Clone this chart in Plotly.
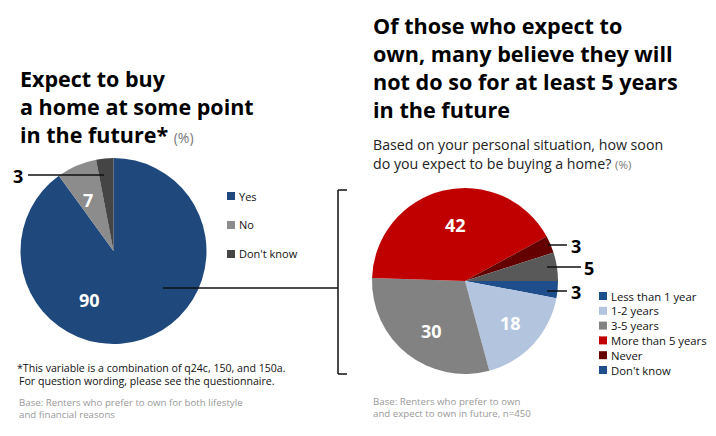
import plotly.graph_objects as go

W, H = 716, 436

# Left pie: expect to buy a home
buy_labels = ["Yes", "No", "Don't know"]
buy_values = [90, 7, 3]
buy_colors = ["#1f497d", "#8c8c8c", "#454545"]

# Right pie: how soon
soon_labels = ["Less than 1 year", "1-2 years", "3-5 years", "More than 5 years", "Never", "Don't know"]
soon_values = [3, 18, 30, 42, 3, 5]
soon_colors = ["#1f4e8c", "#b3c4df", "#828282", "#c00000", "#640000", "#595959"]
soon_legend_colors = ["#1f4e8c", "#b3c4df", "#828282", "#c00000", "#640000", "#1f4e8c"]

left_title = ["Expect to buy", "a home at some point", "in the future*"]
right_title = ["Of those who expect to", "own, many believe they will",
               "not do so for at least 5 years", "in the future"]
right_sub = ["Based on your personal situation, how soon",
             "do you expect to be buying a home?"]
left_note = ["*This variable is a combination of q24c, 150, and 150a.",
             "For question wording, please see the questionnaire."]
left_base = ["Base: Renters who prefer to own for both lifestyle", "and financial reasons"]
right_base = ["Base: Renters who prefer to own", "and expect to own in future, n=450"]

FONT = "Open Sans"


def px(x, y):
    """pixel -> paper coords"""
    return x / W, 1 - y / H


def pie_domain(cx, cy, r):
    return dict(x=[(cx - r) / W, (cx + r) / W], y=[1 - (cy + r) / H, 1 - (cy - r) / H])


fig = go.Figure()

fig.add_trace(go.Pie(
    labels=buy_labels, values=buy_values, sort=False, direction="clockwise", rotation=0,
    marker=dict(colors=buy_colors, line=dict(width=0)),
    textinfo="none", hoverinfo="label+value", showlegend=False,
    domain=pie_domain(113.5, 251, 93),
))
fig.add_trace(go.Pie(
    labels=soon_labels, values=soon_values, sort=False, direction="clockwise", rotation=90,
    marker=dict(colors=soon_colors, line=dict(width=0)),
    textinfo="none", hoverinfo="label+value", showlegend=False,
    domain=pie_domain(465, 281, 93),
))

annotations = []
shapes = []


def text(x, y, s, size, color="#000", bold=False, xanchor="left"):
    xx, yy = px(x, y)
    if bold:
        s = "<b>" + s + "</b>"
    annotations.append(dict(x=xx, y=yy, xref="paper", yref="paper", text=s, showarrow=False,
                            xanchor=xanchor, yanchor="middle", align="left",
                            font=dict(family=FONT, size=size, color=color)))


def line(x0, y0, x1, y1, width=1.5):
    a, b = px(x0, y0)
    c, d = px(x1, y1)
    shapes.append(dict(type="line", xref="paper", yref="paper", x0=a, y0=b, x1=c, y1=d,
                       line=dict(color="#111", width=width)))


def square(x, y, color, size=8):
    a, b = px(x, y + size / 2)
    c, d = px(x + size, y - size / 2)
    shapes.append(dict(type="rect", xref="paper", yref="paper", x0=a, y0=b, x1=c, y1=d,
                       fillcolor=color, line=dict(width=0)))


# titles (one block each)
text(18, 106, "<b>" + "<br>".join(left_title) + "</b> "
     "<span style='font-size:14px;color:#777'>(%)</span>", 21.5)
text(371, 68, "<br>".join(right_title), 21.6, bold=True)
for i, s in enumerate(right_sub):
    if i == len(right_sub) - 1:
        s = s + " <span style='font-size:11.5px;color:#777'>(%)</span>"
    text(371, 144 + 20 * i, s, 14.2, color="#222")

# notes
for i, s in enumerate(left_note):
    text(15 if i == 0 else 17, 368 + 13 * i, s, 10.6, color="#111")
for i, s in enumerate(left_base):
    text(17, 402 + 12 * i, s, 9.7, color="#999")
for i, s in enumerate(right_base):
    text(371, 401 + 12 * i, s, 9.7, color="#999")

# legends (coloured square + label)
for i, (lab, col) in enumerate(zip(buy_labels, buy_colors)):
    square(227, 196 + 29 * i, col)
    text(237, 196 + 29 * i, lab, 11, color="#111")
for i, (lab, col) in enumerate(zip(soon_labels, soon_legend_colors)):
    square(599, 296 + 14.8 * i, col)
    text(609, 296 + 14.8 * i, lab, 11.3, color="#111")

# slice labels, left
text(89, 300, str(buy_values[0]), 18, color="white", bold=True, xanchor="center")
text(88, 200, str(buy_values[1]), 18, color="white", bold=True, xanchor="center")
text(18, 176, str(buy_values[2]), 18, bold=True, xanchor="center")
line(28, 175, 104, 175)

# slice labels, right
text(455, 225, str(soon_values[3]), 18, color="white", bold=True, xanchor="center")
text(431, 331, str(soon_values[2]), 18, color="white", bold=True, xanchor="center")
text(510, 323, str(soon_values[1]), 18, color="white", bold=True, xanchor="center")
text(576, 246, str(soon_values[4]), 18, bold=True, xanchor="center")
line(548, 245, 567, 245)
text(589, 268, str(soon_values[5]), 18, bold=True, xanchor="center")
line(547, 267, 581, 267)
text(576, 292, str(soon_values[0]), 18, bold=True, xanchor="center")
line(547, 291, 567, 291)

# connector bracket
line(163, 288, 338, 288)
line(338, 190, 338, 374)
line(338, 190, 347, 190)
line(338, 374, 347, 374)

fig.update_layout(
    width=W, height=H,
    margin=dict(l=0, r=0, t=0, b=0),
    paper_bgcolor="white", plot_bgcolor="white",
    annotations=annotations, shapes=shapes,
    font=dict(family=FONT),
)

# drop the default page margin so the figure sits at the window corner
fig.write_html("out.html", config={"displayModeBar": False},
               post_script="document.body.style.margin='0';")
